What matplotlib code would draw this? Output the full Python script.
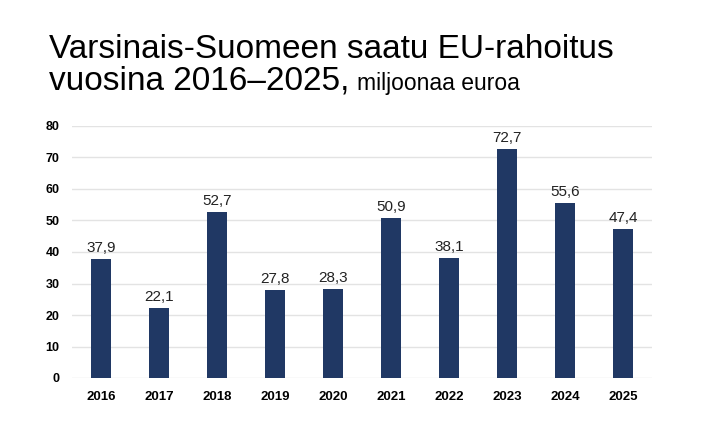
import matplotlib.pyplot as plt

# Vuodet ja rahoitus (milj. euroa)
vuodet = ["2016", "2017", "2018", "2019", "2020", "2021", "2022", "2023", "2024", "2025"]
rahoitus = [37.9, 22.1, 52.7, 27.8, 28.3, 50.9, 38.1, 72.7, 55.6, 47.4]
y_ticks = [0, 10, 20, 30, 40, 50, 60, 70, 80]

plt.rcParams["font.family"] = ["Liberation Sans", "DejaVu Sans"]

fig = plt.figure(figsize=(7.04, 4.33), dpi=100)
ax = fig.add_axes([72 / 704, 55 / 433, 580 / 704, 252 / 433])

x = range(len(vuodet))
bars = ax.bar(x, rahoitus, width=0.34, color="#203864", zorder=3)

for b, v in zip(bars, rahoitus):
    ax.text(b.get_x() + b.get_width() / 2, v + 1.3, f"{v:.1f}".replace(".", ","),
            ha="center", va="bottom", fontsize=11, color="#222222")

ax.set_xlim(-0.5, len(vuodet) - 0.5)
ax.set_ylim(0, 80)
ax.set_xticks(list(x))
ax.set_xticklabels(vuodet, fontsize=9.5, fontweight="bold")
ax.set_yticks(y_ticks)
ax.set_yticklabels([str(t) for t in y_ticks], fontsize=9, fontweight="bold")
ax.tick_params(axis="x", length=0, pad=9)
ax.tick_params(axis="y", length=0, pad=9)
ax.grid(axis="y", color="#E3E3E3", linewidth=1, zorder=0)
for s in ax.spines.values():
    s.set_visible(False)

fig.text(49 / 704, 1 - 58 / 433, "Varsinais-Suomeen saatu EU-rahoitus",
         fontsize=24, va="baseline")
t = fig.text(49 / 704, 1 - 90 / 433, "vuosina 2016–2025, ", fontsize=24, va="baseline")
fig.canvas.draw()
bb = t.get_window_extent()
fig.text((bb.x1 - 2) / 704, 1 - 90 / 433, "miljoonaa euroa", fontsize=16.5, va="baseline")

plt.savefig("out.png", dpi=100)
